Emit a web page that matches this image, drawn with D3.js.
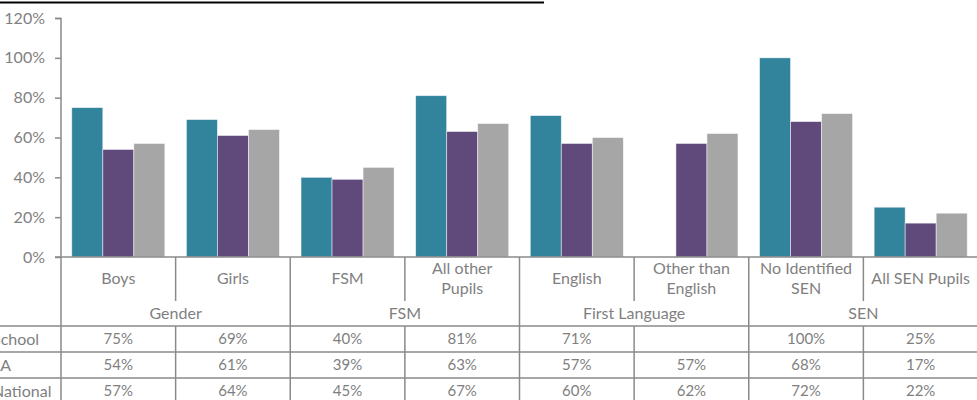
<!DOCTYPE html>
<html><head><meta charset="utf-8">
<script src="https://cdn.jsdelivr.net/npm/d3@7"></script>
<style>body{margin:0;background:#fff}svg{display:block}</style>
</head><body>
<svg id="c" width="977" height="400"></svg>
<script>
const categories = [["Boys"],["Girls"],["FSM"],["All other","Pupils"],["English"],["Other than","English"],["No Identified","SEN"],["All SEN Pupils"]];
const groups = [{name:"Gender",from:0,to:1},{name:"FSM",from:2,to:3},{name:"First Language",from:4,to:5},{name:"SEN",from:6,to:7}];
const seriesNames = ["School","LA","National"];
const school = [75,69,40,81,71,null,100,25];
const la = [54,61,39,63,57,57,68,17];
const national = [57,64,45,67,60,62,72,22];
const yTicks = [0,20,40,60,80,100,120];
const colors = ["#31849B","#604A7B","#A6A6A6"];

const series = [school, la, national];
const svg = d3.select("#c");
const font = "Lato, 'Open Sans', sans-serif";
const gridC = "#8a8a8a", textC = "#7f7f7f";

const x = d3.scaleBand().domain(d3.range(categories.length)).range([61, 978]).paddingInner(0).paddingOuter(0);
const bw = x.bandwidth();
const xs = d3.scaleBand().domain(d3.range(3)).range([bw*0.094, bw*(1-0.094)]);
const y = d3.scaleLinear().domain([0,120]).range([257, 18]);

// title underline (title text is cut off above the frame)
svg.append("line").attr("x1",0).attr("x2",544).attr("y1",2.5).attr("y2",2.5).attr("stroke","#000").attr("stroke-width",2);

// bars
series.forEach((vals, si) => {
  svg.append("g").selectAll("rect").data(vals.map((v,i)=>({v,i})).filter(d=>d.v!=null)).join("rect")
    .attr("x", d => x(d.i) + xs(si))
    .attr("width", xs.bandwidth())
    .attr("y", d => y(d.v))
    .attr("height", d => y(0) - y(d.v))
    .attr("fill", colors[si])
    .attr("stroke", "rgba(255,255,255,0.6)")
    .attr("stroke-width", 0.8);
});

// y axis
const yAxis = d3.axisLeft(y).tickValues(yTicks).tickFormat(d => d + "%").tickSize(6).tickPadding(10);
const ga = svg.append("g").attr("transform","translate(61,0)").call(yAxis);
ga.select(".domain").attr("stroke", gridC).attr("stroke-width",1.5).attr("d","M-6,18.5H0V257");
ga.selectAll(".tick line").attr("stroke", gridC).attr("stroke-width",1.5);
ga.selectAll(".tick text").attr("fill", textC).style("font-family", font).style("font-size","16px");

// table
const T = svg.append("g").attr("stroke", gridC).attr("stroke-width",1.5).attr("fill","none");
const yCatBottom = 301, yGrpBottom = 326, rowH = 26, yEnd = 400;
T.append("line").attr("x1",55).attr("x2",977).attr("y1",257).attr("y2",257);
T.append("line").attr("x1",61).attr("x2",61).attr("y1",257).attr("y2",yEnd);
// vertical lines
const boundaries = new Set(groups.map(g => g.from));
categories.forEach((c,i) => {
  if (i === 0) return;
  T.append("line").attr("x1",x(i)).attr("x2",x(i)).attr("y1",257).attr("y2", boundaries.has(i) ? yEnd : yCatBottom);
  if (!boundaries.has(i)) T.append("line").attr("x1",x(i)).attr("x2",x(i)).attr("y1",yGrpBottom).attr("y2",yEnd);
});
// horizontal row lines
for (let r = 0; r < 3; r++) {
  T.append("line").attr("x1",0).attr("x2",977).attr("y1",yGrpBottom + r*rowH).attr("y2",yGrpBottom + r*rowH);
}

const txt = svg.append("g").attr("fill", textC).style("font-family", font).style("font-size","16px");
// category labels
categories.forEach((lines,i) => {
  const cx = x(i) + bw/2;
  const cy = 278.5;
  lines.forEach((l,k) => {
    txt.append("text").attr("x",cx).attr("y", cy + (k - (lines.length-1)/2)*20).attr("dy","0.35em").attr("text-anchor","middle").text(l);
  });
});
// group labels
groups.forEach(g => {
  txt.append("text").attr("x",(x(g.from)+x(g.to)+bw)/2).attr("y",313).attr("dy","0.35em").attr("text-anchor","middle").text(g.name);
});
// data rows
series.forEach((vals, si) => {
  const cy = yGrpBottom + si*rowH + rowH/2;
  txt.append("text").attr("x",-8).attr("y",cy).attr("dy","0.35em").attr("text-anchor","start").text(seriesNames[si]);
  vals.forEach((v,i) => {
    if (v == null) return;
    txt.append("text").attr("x",x(i)+bw/2).attr("y",cy).attr("dy","0.35em").attr("text-anchor","middle").style("font-size","15px").text(v + "%");
  });
});
</script>
</body></html>
